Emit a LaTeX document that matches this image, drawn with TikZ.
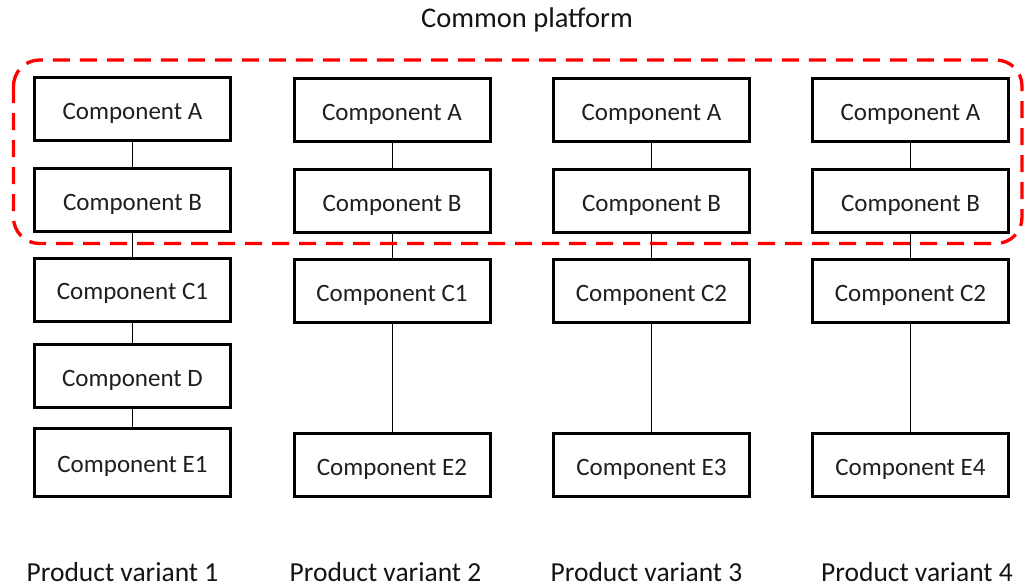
\documentclass[tikz,border=0pt]{standalone}
\usepackage{fontspec}
\setmainfont{Carlito}
\begin{document}
\begin{tikzpicture}[x=1pt,y=-1pt,
  comp/.style={draw=black, line width=3pt, minimum width=196pt, minimum height=63pt, inner sep=0pt, text height=20pt, text depth=0pt, text=black!88, font=\fontsize{25}{30}\selectfont},
  link/.style={draw=black, line width=0.9pt},
  lbl/.style={text=black!92, inner sep=0pt, anchor=base},
  platform/.style={draw=red, line width=3.3pt, dash pattern=on 17pt off 10pt, rounded corners=26pt}]
\useasboundingbox (0,0) rectangle (1025,586);
% column 1
\node[comp] (a1) at (132.5,109) {Component A};
\node[comp] (b1) at (132.5,200) {Component B};
\node[comp] (c1) at (132.5,289.5) {Component C1};
\node[comp] (d1) at (132.5,376) {Component D};
\node[comp, minimum height=68pt] (e1) at (132.5,462.5) {Component E1};
% column 2
\node[comp] (a2) at (392,110) {Component A};
\node[comp] (b2) at (392,201) {Component B};
\node[comp] (c2) at (392,291) {Component C1};
\node[comp] (e2) at (392,465) {Component E2};
% column 3
\node[comp] (a3) at (651.5,110) {Component A};
\node[comp] (b3) at (651.5,201) {Component B};
\node[comp] (c3) at (651.5,291) {Component C2};
\node[comp] (e3) at (651.5,465) {Component E3};
% column 4
\node[comp] (a4) at (910.5,110) {Component A};
\node[comp] (b4) at (910.5,201) {Component B};
\node[comp] (c4) at (910.5,291) {Component C2};
\node[comp] (e4) at (910.5,465) {Component E4};
% connectors
\draw[link] (a1) -- (b1); \draw[link] (b1) -- (c1); \draw[link] (c1) -- (d1); \draw[link] (d1) -- (e1);
\draw[link] (a2) -- (b2); \draw[link] (b2) -- (c2); \draw[link] (c2) -- (e2);
\draw[link] (a3) -- (b3); \draw[link] (b3) -- (c3); \draw[link] (c3) -- (e3);
\draw[link] (a4) -- (b4); \draw[link] (b4) -- (c4); \draw[link] (c4) -- (e4);
% common platform
\draw[platform] (13.5,60) rectangle (1022,243.5);
\node[lbl, font=\fontsize{28.5}{32}\selectfont] (title) at (527,28) {Common platform};
% labels
\node[lbl, font=\fontsize{27.5}{32}\selectfont] (p1) at (122.5,581) {Product variant 1};
\node[lbl, font=\fontsize{27.5}{32}\selectfont] (p2) at (385.5,581) {Product variant 2};
\node[lbl, font=\fontsize{27.5}{32}\selectfont] (p3) at (646.5,581) {Product variant 3};
\node[lbl, font=\fontsize{27.5}{32}\selectfont] (p4) at (917,581) {Product variant 4};
\end{tikzpicture}
\end{document}
